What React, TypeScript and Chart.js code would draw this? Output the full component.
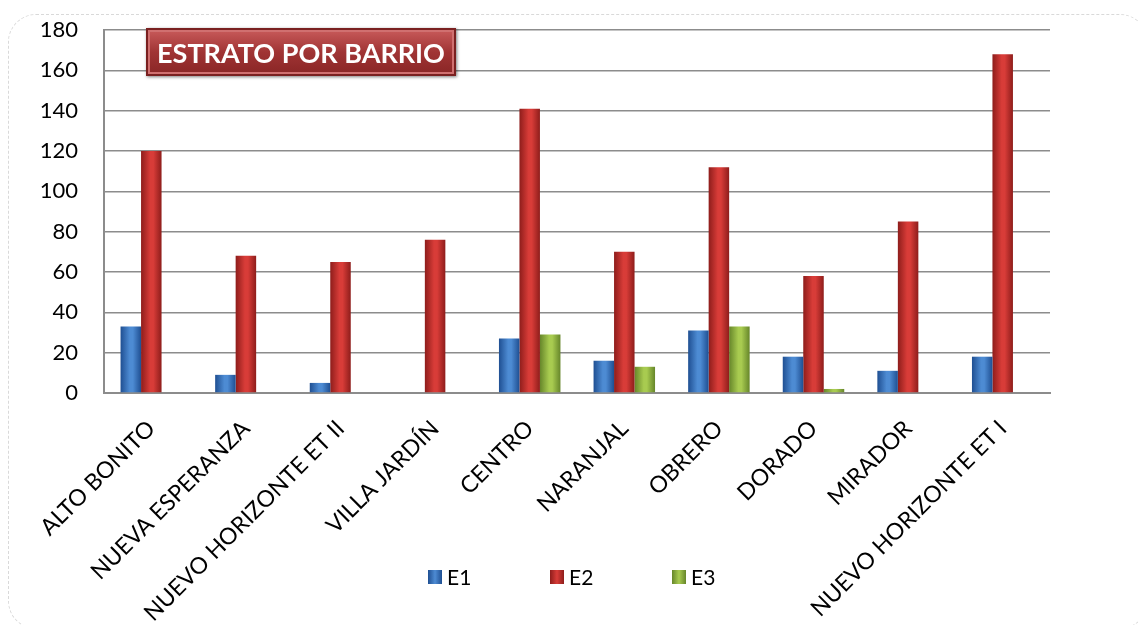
import React, { useEffect, useRef } from "react";
import { Chart, registerables } from "chart.js";

Chart.register(...registerables);

const categories = [
  "ALTO BONITO",
  "NUEVA ESPERANZA",
  "NUEVO HORIZONTE ET II",
  "VILLA JARDÍN",
  "CENTRO",
  "NARANJAL",
  "OBRERO",
  "DORADO",
  "MIRADOR",
  "NUEVO HORIZONTE ET I",
];
const seriesE1 = [33, 9, 5, 0, 27, 16, 31, 18, 11, 18];
const seriesE2 = [120, 68, 65, 76, 141, 70, 112, 58, 85, 168];
const seriesE3 = [0, 0, 0, 0, 29, 13, 33, 2, 0, 0];
const seriesNames = ["E1", "E2", "E3"];
const yMin = 0;
const yMax = 180;
const yStep = 20;
const chartTitle = "ESTRATO POR BARRIO";

const FONT = "Lato, 'Open Sans', sans-serif";
const CAT_PCT = 0.65;

// [edge, center] colours per series
const palette = [
  ["#1f4f92", "#4d8bd3"],
  ["#8e1d1b", "#d83c38"],
  ["#66862a", "#a8cb50"],
];

function barFill(dsIndex: number) {
  return (c: any) => {
    const chart = c.chart;
    const xs = chart.scales && chart.scales.x;
    const [edge, mid] = palette[dsIndex];
    if (!xs || c.type !== "data" || !xs.width) return mid;
    const center = xs.getPixelForValue(c.dataIndex);
    const groupW = (xs.width / categories.length) * CAT_PCT;
    const barW = groupW / 3;
    const left = center - groupW / 2 + barW * dsIndex;
    const g = chart.ctx.createLinearGradient(left, 0, left + barW, 0);
    g.addColorStop(0, edge);
    g.addColorStop(0.45, mid);
    g.addColorStop(0.6, mid);
    g.addColorStop(1, edge);
    return g;
  };
}

function zeroPadding(scale: any) {
  scale.paddingTop = 0;
  scale.paddingBottom = 0;
  scale.paddingLeft = 0;
  scale.paddingRight = 0;
}

export default function App() {
  const canvasRef = useRef<HTMLCanvasElement | null>(null);

  useEffect(() => {
    if (!canvasRef.current) return;
    const chart = new Chart(canvasRef.current, {
      type: "bar",
      data: {
        labels: categories,
        datasets: [
          { label: seriesNames[0], data: seriesE1, backgroundColor: barFill(0), borderWidth: 0 },
          { label: seriesNames[1], data: seriesE2, backgroundColor: barFill(1), borderWidth: 0 },
          { label: seriesNames[2], data: seriesE3, backgroundColor: barFill(2), borderWidth: 0 },
        ],
      },
      options: {
        animation: false,
        responsive: false,
        maintainAspectRatio: false,
        layout: { padding: { top: 22, right: 88, left: 0, bottom: 0 } },
        datasets: {
          bar: { categoryPercentage: CAT_PCT, barPercentage: 1 },
        },
        scales: {
          x: {
            grid: { display: false, drawTicks: false },
            border: { display: true, color: "#8c8c8c", width: 2 },
            ticks: {
              autoSkip: false,
              minRotation: 45,
              maxRotation: 45,
              padding: 22,
              color: "#000",
              font: { family: FONT, size: 23 },
            },
            afterFit: (scale: any) => {
              scale.height = 232;
              zeroPadding(scale);
            },
          },
          y: {
            min: yMin,
            max: yMax,
            ticks: {
              stepSize: yStep,
              padding: 26,
              color: "#000",
              font: { family: FONT, size: 22 },
            },
            grid: { color: "#8c8c8c", lineWidth: 1.5, drawTicks: false },
            border: { display: true, color: "#8c8c8c", width: 2 },
            afterFit: (scale: any) => {
              scale.width = 96;
              zeroPadding(scale);
            },
          },
        },
        plugins: {
          title: { display: false },
          tooltip: { enabled: false },
          legend: { display: false },
        },
      },
    });
    return () => chart.destroy();
  }, []);

  return (
    <div style={{ position: "relative", width: 1130, height: 617 }}>
      <div
        style={{
          position: "absolute",
          left: 0,
          top: 6,
          width: 1140,
          height: 615,
          border: "1px dashed #d9d9d9",
          borderRadius: 28,
          boxSizing: "border-box",
        }}
      />
      <canvas ref={canvasRef} width={1130} height={617} style={{ position: "absolute", left: 0, top: 0 }} />
      <div
        style={{
          position: "absolute",
          left: 138,
          top: 20,
          width: 310,
          height: 48,
          boxSizing: "border-box",
          background: "linear-gradient(#c85a5a, #a03434 50%, #8a2626)",
          border: "2px solid #7a2020",
          boxShadow: "inset 0 0 0 2px #d07070, 1px 1px 3px rgba(0,0,0,0.5)",
          color: "#fff",
          fontFamily: FONT,
          fontWeight: 700,
          fontSize: 27,
          display: "flex",
          alignItems: "center",
          justifyContent: "center",
          whiteSpace: "nowrap",
        }}
      >
        {chartTitle}
      </div>
      <div
        style={{
          position: "absolute",
          left: 420,
          top: 556,
          display: "flex",
          alignItems: "center",
          fontFamily: FONT,
          fontSize: 21,
          color: "#000",
        }}
      >
        {seriesNames.map((name, i) => (
          <div key={name} style={{ display: "flex", alignItems: "center", width: 122 }}>
            <span
              style={{
                display: "inline-block",
                width: 14,
                height: 14,
                marginRight: 5,
                background: `linear-gradient(90deg, ${palette[i][0]}, ${palette[i][1]} 50%, ${palette[i][0]})`,
              }}
            />
            <span>{name}</span>
          </div>
        ))}
      </div>
    </div>
  );
}
